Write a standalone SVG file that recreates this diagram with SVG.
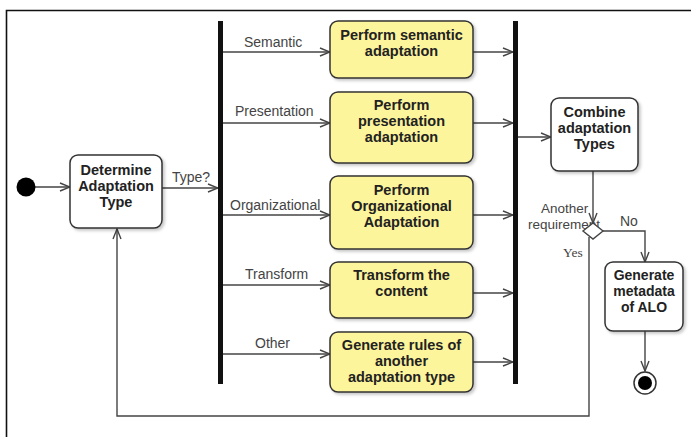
<svg xmlns="http://www.w3.org/2000/svg" width="691" height="437" viewBox="0 0 691 437">
<defs>
<marker id="arr" markerWidth="12" markerHeight="10" refX="11" refY="5" orient="auto" markerUnits="userSpaceOnUse">
<polyline points="1,1 11,5 1,9" fill="none" stroke="#444" stroke-width="1.4"/>
</marker>
<filter id="sh" x="-10%" y="-10%" width="130%" height="130%">
<feDropShadow dx="2" dy="2" stdDeviation="1.5" flood-color="#000" flood-opacity="0.22"/>
</filter>
</defs>
<style>
.act{fill:#fdf59b;stroke:#333;stroke-width:1.5;filter:url(#sh)}
.wact{fill:#fff;stroke:#333;stroke-width:1.5;filter:url(#sh)}
.bt{font-family:"Liberation Sans",Arial,sans-serif;font-weight:bold;font-size:14.5px;fill:#222;text-anchor:middle}
.sm{font-size:14px}
.lb{font-family:"Liberation Sans",Arial,sans-serif;font-size:14px;fill:#444}
.lb2{font-size:13.5px}
.sf{font-family:"Liberation Serif","Times New Roman",serif;font-size:13.5px;fill:#444}
.ln{fill:none;stroke:#444;stroke-width:1.4}
.bar{fill:#111}
</style>
<rect width="691" height="437" fill="#fff"/>
<path d="M6.5,437 V10.5 H691" fill="none" stroke="#111" stroke-width="1.6"/>

<g id="connectors">
<line class="ln" x1="35" y1="187" x2="70" y2="187" marker-end="url(#arr)"/>
<line class="ln" x1="162" y1="188" x2="218" y2="188" marker-end="url(#arr)"/>
<line class="ln" x1="222" y1="52" x2="330" y2="52" marker-end="url(#arr)"/>
<line class="ln" x1="222" y1="123" x2="330" y2="123" marker-end="url(#arr)"/>
<line class="ln" x1="222" y1="215" x2="330" y2="215" marker-end="url(#arr)"/>
<line class="ln" x1="222" y1="285" x2="330" y2="285" marker-end="url(#arr)"/>
<line class="ln" x1="222" y1="354" x2="330" y2="354" marker-end="url(#arr)"/>
<line class="ln" x1="473" y1="52" x2="513" y2="52" marker-end="url(#arr)"/>
<line class="ln" x1="473" y1="123" x2="513" y2="123" marker-end="url(#arr)"/>
<line class="ln" x1="473" y1="215" x2="513" y2="215" marker-end="url(#arr)"/>
<line class="ln" x1="473" y1="293" x2="513" y2="293" marker-end="url(#arr)"/>
<line class="ln" x1="473" y1="362" x2="513" y2="362" marker-end="url(#arr)"/>
<line class="ln" x1="518" y1="137" x2="551" y2="137" marker-end="url(#arr)"/>
<line class="ln" x1="593" y1="171" x2="593" y2="223" marker-end="url(#arr)"/>
<polyline class="ln" points="603,231 645,231 645,262" marker-end="url(#arr)"/>
<polyline class="ln" points="589,237 589,416 117,416 117,229" marker-end="url(#arr)"/>
<line class="ln" x1="645" y1="331" x2="645" y2="371" marker-end="url(#arr)"/>
<text class="lb" x="172" y="182">Type?</text>
<text class="lb" x="244" y="47">Semantic</text>
<text class="lb" x="235" y="116">Presentation</text>
<text class="lb" x="230" y="210">Organizational</text>
<text class="lb" x="245" y="279">Transform</text>
<text class="lb" x="255" y="348">Other</text>
<text class="lb lb2" x="541" y="213">Another</text>
<text class="lb lb2" x="528" y="229">requirement</text>
<text class="lb" x="620" y="226">No</text>
<text class="sf" x="563" y="257">Yes</text>
</g>

<g id="initial"><circle cx="26" cy="187" r="9.5" fill="#000"/></g>

<g id="determine">
<rect class="wact" x="70" y="155" width="92" height="73" rx="8"/>
<text class="bt" x="116" y="175">Determine</text>
<text class="bt" x="116" y="191">Adaptation</text>
<text class="bt" x="116" y="207">Type</text>
</g>

<g id="fork"><rect class="bar" x="218" y="21" width="5" height="363"/></g>
<g id="join"><rect class="bar" x="513" y="21" width="5" height="363"/></g>

<g id="semantic">
<rect class="act" x="330" y="21" width="143" height="57" rx="8"/>
<text class="bt" x="401.5" y="40">Perform semantic</text>
<text class="bt" x="401.5" y="56">adaptation</text>
</g>
<g id="presentation">
<rect class="act" x="330" y="92" width="143" height="71" rx="8"/>
<text class="bt" x="401.5" y="110">Perform</text>
<text class="bt" x="401.5" y="126">presentation</text>
<text class="bt" x="401.5" y="142">adaptation</text>
</g>
<g id="organizational">
<rect class="act" x="330" y="176" width="143" height="73" rx="8"/>
<text class="bt" x="401.5" y="195">Perform</text>
<text class="bt" x="401.5" y="211">Organizational</text>
<text class="bt" x="401.5" y="227">Adaptation</text>
</g>
<g id="transform">
<rect class="act" x="330" y="262" width="143" height="56" rx="8"/>
<text class="bt" x="401.5" y="280">Transform the</text>
<text class="bt" x="401.5" y="296">content</text>
</g>
<g id="other">
<rect class="act" x="330" y="332" width="143" height="60" rx="8"/>
<text class="bt" x="401.5" y="350">Generate rules of</text>
<text class="bt" x="401.5" y="366">another</text>
<text class="bt" x="401.5" y="382">adaptation type</text>
</g>

<g id="combine">
<rect class="wact" x="551" y="98" width="87" height="73" rx="8"/>
<text class="bt" x="594.5" y="117">Combine</text>
<text class="bt" x="594.5" y="133">adaptation</text>
<text class="bt" x="594.5" y="149">Types</text>
</g>

<g id="decision"><polygon points="593,223 603,231 593,239 583,231" fill="#fff" stroke="#444" stroke-width="1.4"/></g>

<g id="metadata">
<rect class="wact" x="605" y="262" width="78" height="69" rx="8"/>
<text class="bt sm" x="644" y="280">Generate</text>
<text class="bt sm" x="644" y="296">metadata</text>
<text class="bt sm" x="644" y="312">of ALO</text>
</g>

<g id="final">
<circle cx="645" cy="383" r="11" fill="#fff" stroke="#333" stroke-width="1.5"/>
<circle cx="645" cy="383" r="7" fill="#000"/>
</g>
</svg>
